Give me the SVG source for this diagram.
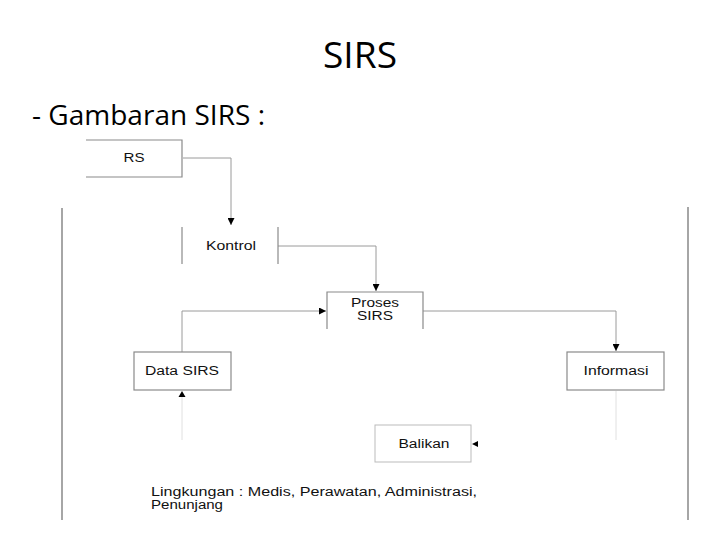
<svg xmlns="http://www.w3.org/2000/svg" width="720" height="540" viewBox="0 0 720 540">
<style>
.t{font-family:"Liberation Sans",Arial,sans-serif;font-size:12px;fill:#111;text-anchor:middle}
.h{font-family:"Open Sans","Noto Sans",sans-serif;fill:#000}
.b{stroke:#8a8a8a;stroke-width:1.2;fill:none}
.c{stroke:#9a9a9a;stroke-width:1;fill:none}
.f{stroke:#e0e0e0;stroke-width:1;fill:none}
.fr{stroke:#888;stroke-width:1.5;fill:none}
</style>
<defs>
<marker id="ah" viewBox="0 0 10 10" refX="10" refY="5" markerWidth="7" markerHeight="7" markerUnits="userSpaceOnUse" orient="auto">
<path d="M0,0 L10,5 L0,10 z" fill="#000"/>
</marker>
</defs>
<rect width="720" height="540" fill="#fff"/>
<text class="h" x="360" y="68" font-size="37" text-anchor="middle" textLength="74" lengthAdjust="spacingAndGlyphs">SIRS</text>
<text class="h" x="32" y="125" font-size="28" textLength="233" lengthAdjust="spacingAndGlyphs">- Gambaran SIRS :</text>
<g id="frame">
<line class="fr" x1="62" y1="208" x2="62" y2="520"/>
<line class="fr" x1="688" y1="207" x2="688" y2="520"/>
</g>
<g id="connectors">
<polyline class="c" points="183,158 231,158 231,225" marker-end="url(#ah)"/>
<polyline class="c" points="278,246 376,246 376,291" marker-end="url(#ah)"/>
<polyline class="c" points="182,352 182,311 326,311" marker-end="url(#ah)"/>
<polyline class="c" points="423,311 616,311 616,351" marker-end="url(#ah)"/>
<line class="f" x1="182" y1="440" x2="182" y2="397"/>
<path d="M178.5,397 L182,391 L185.5,397 z" fill="#000"/>
<line class="f" x1="616" y1="391" x2="616" y2="440"/>
<path d="M478,441 L472,444 L478,447 z" fill="#000"/>
</g>
<g id="rs">
<polyline class="b" points="86,140 182,140 182,177 86,177"/>
<text class="t" x="134" y="162" textLength="21" lengthAdjust="spacingAndGlyphs">RS</text>
</g>
<g id="kontrol">
<line class="b" x1="182" y1="227" x2="182" y2="264"/>
<line class="b" x1="278" y1="227" x2="278" y2="264"/>
<text class="t" x="231" y="250" textLength="50" lengthAdjust="spacingAndGlyphs">Kontrol</text>
</g>
<g id="proses">
<polyline class="b" points="327,329 327,292 423,292 423,329"/>
<text class="t" x="375" y="307" font-size="11" textLength="48" lengthAdjust="spacingAndGlyphs">Proses</text>
<text class="t" x="375" y="320" font-size="11" textLength="36" lengthAdjust="spacingAndGlyphs">SIRS</text>
</g>
<g id="data-sirs">
<rect class="b" x="134" y="352" width="97" height="38"/>
<text class="t" x="182" y="375" textLength="74" lengthAdjust="spacingAndGlyphs">Data SIRS</text>
</g>
<g id="informasi">
<rect class="b" x="567" y="352" width="97" height="38"/>
<text class="t" x="616" y="375" textLength="65" lengthAdjust="spacingAndGlyphs">Informasi</text>
</g>
<g id="balikan">
<rect x="375" y="425" width="96" height="37" fill="none" stroke="#bbb" stroke-width="1"/>
<text class="t" x="424" y="448" textLength="51" lengthAdjust="spacingAndGlyphs">Balikan</text>
</g>
<g id="lingkungan">
<text class="t" x="151" y="496" style="text-anchor:start" font-size="12" textLength="326" lengthAdjust="spacingAndGlyphs">Lingkungan : Medis, Perawatan, Administrasi,</text>
<text class="t" x="151" y="509" style="text-anchor:start" font-size="12" textLength="72" lengthAdjust="spacingAndGlyphs">Penunjang</text>
</g>
</svg>
